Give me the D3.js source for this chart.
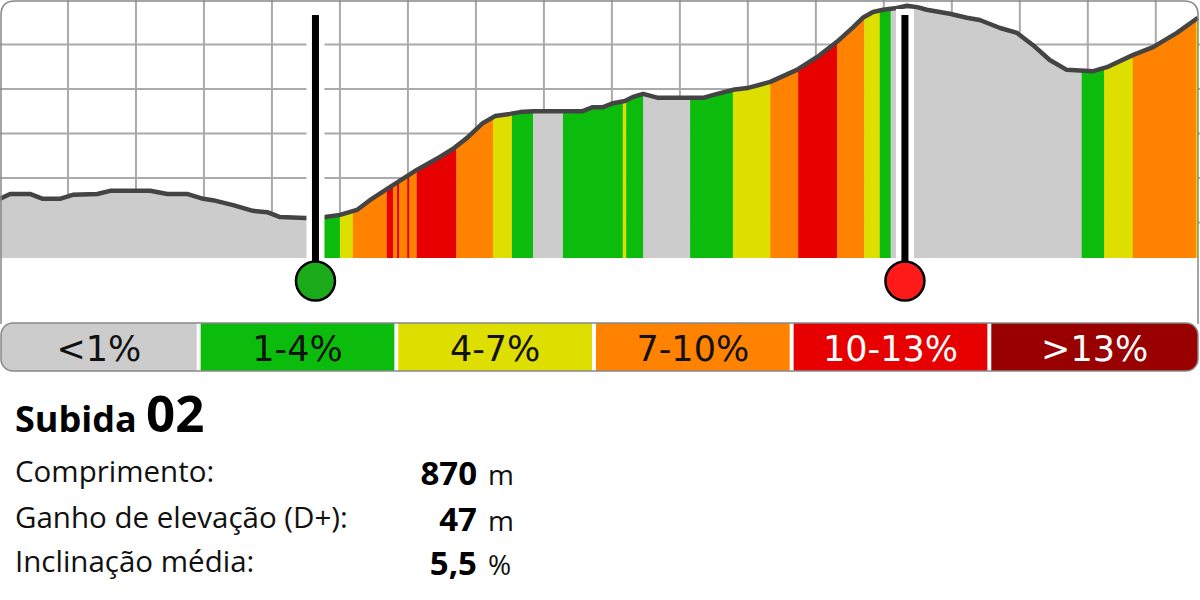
<!DOCTYPE html>
<html>
<head>
<meta charset="utf-8">
<script src="https://cdn.jsdelivr.net/npm/d3@7"></script>
<style>
  body { margin: 0; background: #fff; }
  svg { display: block; }
</style>
</head>
<body>
<div id="main"></div>
<script>
"use strict";

// elevation profile, distance in m / elevation in m
var profileDist = [0, 15, 44, 63, 88, 107, 143, 162, 221, 246, 275, 299, 313, 343, 372, 393, 412, 449,
  478, 500, 525, 544, 574, 613, 647, 666, 687, 710, 728, 750, 765, 784, 857, 872, 887, 902, 919, 931,
  946, 968, 1034, 1055, 1078, 1099, 1133, 1172, 1202, 1231, 1255, 1269, 1284, 1299, 1319, 1334, 1349,
  1363, 1397, 1422, 1441, 1471, 1496, 1519, 1544, 1569, 1608, 1628, 1666, 1696, 1731, 1762];
var profileElev = [115.3, 116.4, 116.4, 115.3, 115.3, 116.2, 116.4, 117.1, 117.1, 116.4, 116.4, 115.3,
  115.0, 113.9, 112.6, 112.3, 111.2, 111.0, 111.2, 111.7, 112.8, 115.0, 118.0, 121.8, 124.7, 126.5,
  129.0, 132.3, 133.9, 134.4, 134.8, 135.0, 135.0, 135.9, 135.9, 136.8, 137.3, 138.2, 138.9, 138.0,
  138.0, 138.9, 139.8, 140.2, 141.6, 144.3, 147.2, 150.6, 153.9, 156.0, 157.3, 157.8, 158.2, 158.7,
  158.4, 157.8, 156.9, 156.0, 155.5, 153.7, 152.6, 149.9, 146.5, 144.3, 144.0, 144.9, 147.6, 149.4,
  152.6, 156.0];

// slope sections: start distance (m) and slope class index
var segStart = [0, 463, 500, 519, 569, 578, 584, 587, 599, 602, 613, 671, 725, 753, 784, 828, 916, 921,
  946, 1015, 1078, 1133, 1174, 1231, 1271, 1294, 1310, 1591, 1624, 1666, 1759];
var segClass = [0, 1, 2, 3, 4, 3, 4, 3, 4, 3, 4, 3, 2, 1, 0, 1, 2, 1, 0, 1, 2, 3, 4, 3, 2, 1, 0, 1, 2, 3, 2];
var totalDist = 1765;

var slopeLabels = ["<1%", "1-4%", "4-7%", "7-10%", "10-13%", ">13%"];
var slopeColors = ["#cccccc", "#0cbc0c", "#dede00", "#ff8200", "#e60000", "#990000"];
var slopeText = ["#111", "#111", "#111", "#111", "#fff", "#fff"];

var climbStart = 464, climbEnd = 1331;
var gridDist = d3.range(100, 1800, 100);
var gridElev = [110, 120, 130, 140, 150];

var statLabels = ["Comprimento:", "Ganho de elevação (D+):", "Inclinação média:"];
var statValues = ["870", "47", "5,5"];
var statUnits = ["m", "m", "%"];

var W = 1200, H = 600, plotBottom = 258;

var svg = d3.select("#main").append("svg").attr("width", W).attr("height", H);

var x = d3.scaleLinear().domain([0, totalDist]).range([0, W]);
var y = d3.scaleLinear().domain([102, 160]).range([plotBottom, 0]);

var profile = profileDist.map(function(d, i) { return [d, profileElev[i]]; });

// grid
var grid = svg.append("g").attr("stroke", "#aaaaaa").attr("stroke-width", 2);
grid.selectAll("line.v").data(gridDist).join("line").attr("class", "v")
  .attr("x1", function(d) { return x(d); }).attr("x2", function(d) { return x(d); })
  .attr("y1", 0).attr("y2", plotBottom);
grid.selectAll("line.h").data(gridElev).join("line").attr("class", "h")
  .attr("x1", 0).attr("x2", W)
  .attr("y1", function(d) { return y(d); }).attr("y2", function(d) { return y(d); });

// area clip + slope columns
var area = d3.area().x(function(d) { return x(d[0]); }).y0(plotBottom).y1(function(d) { return y(d[1]); });
svg.append("clipPath").attr("id", "areaClip").append("path").attr("d", area(profile));

svg.append("g").attr("clip-path", "url(#areaClip)")
  .selectAll("rect").data(segStart).join("rect")
  .attr("x", function(d) { return x(d); })
  .attr("width", function(d, i) { return x(i < segStart.length - 1 ? segStart[i + 1] : totalDist) - x(d) + 0.5; })
  .attr("y", 0).attr("height", plotBottom)
  .attr("fill", function(d, i) { return slopeColors[segClass[i]]; });

var line = d3.line().x(function(d) { return x(d[0]); }).y(function(d) { return y(d[1]); });
svg.append("path").attr("d", line(profile))
  .attr("fill", "none").attr("stroke", "#444").attr("stroke-width", 4.5)
  .attr("stroke-linejoin", "round");

// start / end markers
[[climbStart, "#1aaa1a"], [climbEnd, "#ff1a1a"]].forEach(function(m) {
  var mx = x(m[0]);
  svg.append("rect").attr("x", mx - 9).attr("y", 9).attr("width", 18).attr("height", 270).attr("fill", "#fff");
  svg.append("rect").attr("x", mx - 3.5).attr("y", 15).attr("width", 7).attr("height", 265).attr("fill", "#000");
  svg.append("circle").attr("cx", mx).attr("cy", 281).attr("r", 19.5)
    .attr("fill", m[1]).attr("stroke", "#000").attr("stroke-width", 2.5);
});

// panel border
svg.append("path")
  .attr("d", "M1,324 V15 Q1,1 15,1 H1184 Q1198,1 1198,15 V324")
  .attr("fill", "none").attr("stroke", "#888").attr("stroke-width", 1.5);

// legend
var lg = { x0: 1, x1: 1198, top: 323, h: 48 };
var band = d3.scaleBand().domain(slopeLabels).range([3, 1185]).paddingInner(0.02);
function legX0(d, i) { return i === 0 ? lg.x0 : band(d); }
function legX1(d, i) { return i === slopeLabels.length - 1 ? lg.x1 : band(d) + band.bandwidth(); }
svg.append("clipPath").attr("id", "legClip").append("rect")
  .attr("x", lg.x0).attr("y", lg.top).attr("width", lg.x1 - lg.x0).attr("height", lg.h).attr("rx", 12);
var leg = svg.append("g").attr("clip-path", "url(#legClip)");
leg.append("rect").attr("x", lg.x0).attr("y", lg.top).attr("width", lg.x1 - lg.x0).attr("height", lg.h).attr("fill", "#fff");
leg.selectAll("rect.c").data(slopeLabels).join("rect").attr("class", "c")
  .attr("x", legX0).attr("width", function(d, i) { return legX1(d, i) - legX0(d, i); })
  .attr("y", lg.top).attr("height", lg.h)
  .attr("fill", function(d, i) { return slopeColors[i]; });
svg.append("rect").attr("x", lg.x0).attr("y", lg.top).attr("width", lg.x1 - lg.x0).attr("height", lg.h)
  .attr("rx", 12).attr("fill", "none").attr("stroke", "#888").attr("stroke-width", 1.5);
svg.selectAll("text.leg").data(slopeLabels).join("text").attr("class", "leg")
  .attr("x", function(d, i) { return (legX0(d, i) + legX1(d, i)) / 2; })
  .attr("y", 361)
  .attr("text-anchor", "middle")
  .attr("font-family", "DejaVu Sans, sans-serif").attr("font-size", 35)
  .attr("fill", function(d, i) { return slopeText[i]; })
  .text(function(d) { return d; });

// title + stats
svg.append("text").attr("x", 15).attr("y", 432)
  .attr("font-family", "Open Sans, sans-serif").attr("font-weight", "bold").attr("font-size", 36)
  .attr("fill", "#000").text("Subida");
svg.append("text").attr("x", 146).attr("y", 432)
  .attr("font-family", "Open Sans, sans-serif").attr("font-weight", "bold").attr("font-size", 51)
  .attr("fill", "#000").text("02");

var rowY = [482, 528, 572];
statLabels.forEach(function(s, i) {
  svg.append("text").attr("x", 15).attr("y", rowY[i])
    .attr("font-family", "Open Sans, sans-serif").attr("font-size", 29.5).attr("fill", "#111").text(s);
  svg.append("text").attr("x", 477).attr("y", rowY[i] + 3).attr("text-anchor", "end")
    .attr("font-family", "Open Sans, sans-serif").attr("font-weight", "bold").attr("font-size", 33)
    .attr("fill", "#000").text(statValues[i]);
  svg.append("text").attr("x", 488).attr("y", rowY[i] + 3)
    .attr("font-family", "Open Sans, sans-serif").attr("font-size", 28).attr("fill", "#111").text(statUnits[i]);
});
</script>
</body>
</html>
